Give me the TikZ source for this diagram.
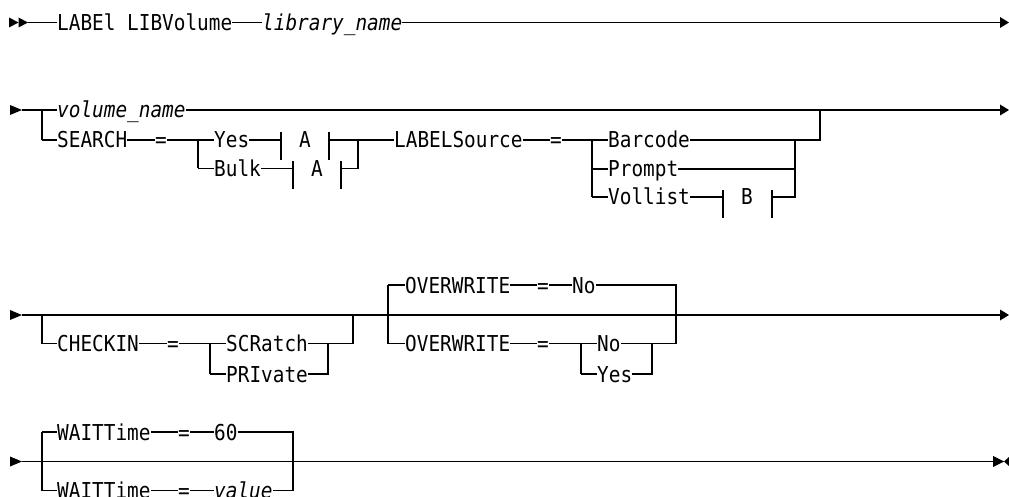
\documentclass[tikz,border=0pt]{standalone}
\usepackage{fontspec}
\setmainfont[FakeStretch=0.885]{DejaVu Sans Mono}
\begin{document}
\begin{tikzpicture}[x=1pt,y=-1pt,
  rail/.style={line width=1.1pt,draw=black},
  kw/.style={font=\fontsize{21.9}{22}\selectfont,inner sep=0pt,anchor=west,text height=16pt,text depth=0pt},
  var/.style={kw,font=\fontsize{21.9}{22}\selectfont\itshape},
  tip/.style={fill=black}]
\useasboundingbox (0,0) rectangle (1009,497);

% ---------- Row 1 ----------
\fill[tip] (9,17.5) -- (18.5,22.5) -- (9,27.5) -- cycle;
\fill[tip] (18.5,17.5) -- (28,22.5) -- (18.5,27.5) -- cycle;
\coordinate (r1s) at (28,22.5);
\node[kw] (lab) at (57,22.5) {LABEl LIBVolume};
\node[var] (lib) at (262,22.5) {library\_name};
\coordinate (r1e) at (1000,22.5);
\draw[rail] (r1s) -- (lab.west);
\draw[rail] (lab.east) -- (lib.west);
\draw[rail] (lib.east) -- (r1e);
\fill[tip] (1000,17) -- (1009,22.5) -- (1000,28) -- cycle;

% ---------- Row 2 ----------
\fill[tip] (10,105) -- (22,110) -- (10,115) -- cycle;
\coordinate (r2s) at (22,110);
\coordinate (j2a) at (42,110);
\coordinate (j2b) at (42,140);
\node[var] (vol) at (57,110) {volume\_name};
\coordinate (r2e) at (1000,110);
\draw[rail] (r2s) -- (j2a) -- (vol.west);
\draw[rail] (vol.east) -- (r2e);
\fill[tip] (1000,104.5) -- (1009,110) -- (1000,115.5) -- cycle;
\draw[rail] (j2a) -- (j2b);

\node[kw] (search) at (57,140) {SEARCH};
\node[kw] (eq1) at (155,140) {=};
\draw[rail] (j2b) -- (search.west);
\draw[rail] (search.east) -- (eq1.west);
\coordinate (j2c) at (198,140);
\coordinate (j2d) at (198,168.5);
\draw[rail] (eq1.east) -- (j2c) -- (j2d);
\node[kw] (yes) at (214,140) {Yes};
\node[kw] (bulk) at (214,168.5) {Bulk};
\draw[rail] (j2c) -- (yes.west);
\draw[rail] (j2d) -- (bulk.west);
% fragment A (Yes)
\coordinate (ya1) at (281,140);
\coordinate (ya2) at (329,140);
\node[kw] (fa1) at (299,140) {A};
\draw[rail] (yes.east) -- (ya1);
\draw[rail] (281,132) -- (281,160);
\draw[rail] (329,132) -- (329,160);
% fragment A (Bulk)
\coordinate (ba1) at (293,168.5);
\coordinate (ba2) at (341,168.5);
\node[kw] (fa2) at (311,168.5) {A};
\draw[rail] (bulk.east) -- (ba1);
\draw[rail] (293,161.5) -- (293,189.5);
\draw[rail] (341,161.5) -- (341,189.5);
\coordinate (j2e) at (358,140);
\coordinate (j2f) at (358,168.5);
\draw[rail] (ya2) -- (j2e) -- (j2f) -- (ba2);

\node[kw] (ls) at (394,140) {LABELSource};
\node[kw] (eq2) at (550,140) {=};
\draw[rail] (j2e) -- (ls.west);
\draw[rail] (ls.east) -- (eq2.west);
\coordinate (j2g) at (592,140);
\coordinate (j2h) at (592,169);
\coordinate (j2i) at (592,197);
\draw[rail] (eq2.east) -- (j2g) -- (j2i);
\node[kw] (barcode) at (608,140) {Barcode};
\node[kw] (prompt) at (608,169) {Prompt};
\node[kw] (vollist) at (608,197) {Vollist};
\draw[rail] (j2g) -- (barcode.west);
\draw[rail] (j2h) -- (prompt.west);
\draw[rail] (j2i) -- (vollist.west);
% fragment B
\coordinate (vb1) at (723,197);
\coordinate (vb2) at (772,197);
\node[kw] (fb) at (741,197) {B};
\draw[rail] (vollist.east) -- (vb1);
\draw[rail] (723,190) -- (723,218);
\draw[rail] (772,190) -- (772,218);
\coordinate (j2j) at (795,140);
\coordinate (j2k) at (795,169);
\coordinate (j2l) at (795,197);
\draw[rail] (vb2) -- (j2l) -- (j2j);
\draw[rail] (prompt.east) -- (j2k);
\coordinate (j2m) at (820,140);
\coordinate (j2n) at (820,110);
\draw[rail] (barcode.east) -- (j2m) -- (j2n);

% ---------- Row 3 ----------
\fill[tip] (10,310) -- (22,315) -- (10,320) -- cycle;
\coordinate (r3s) at (22,315);
\coordinate (r3e) at (1000,315);
\draw[rail] (r3s) -- (r3e);
\fill[tip] (1000,309.5) -- (1009,315) -- (1000,320.5) -- cycle;
\coordinate (j3a) at (42,315);
\coordinate (j3b) at (42,343.5);
\node[kw] (checkin) at (57,343.5) {CHECKIN};
\node[kw] (eq3) at (167,343.5) {=};
\draw[rail] (j3a) -- (j3b) -- (checkin.west);
\draw[rail] (checkin.east) -- (eq3.west);
\coordinate (j3c) at (210,343.5);
\coordinate (j3d) at (210,374);
\draw[rail] (eq3.east) -- (j3c) -- (j3d);
\node[kw] (scratch) at (226,343.5) {SCRatch};
\node[kw] (private) at (226,374) {PRIvate};
\draw[rail] (j3c) -- (scratch.west);
\draw[rail] (j3d) -- (private.west);
\coordinate (j3e) at (328,343.5);
\coordinate (j3f) at (328,374);
\coordinate (j3g) at (353,343.5);
\coordinate (j3h) at (353,315);
\draw[rail] (scratch.east) -- (j3e);
\draw[rail] (private.east) -- (j3f) -- (j3e) -- (j3g) -- (j3h);

% OVERWRITE
\coordinate (j3i) at (388,285);
\coordinate (j3j) at (388,343.5);
\draw[rail] (j3i) -- (j3j);
\node[kw] (ow1) at (405,285) {OVERWRITE};
\node[kw] (eq4) at (537,285) {=};
\node[kw] (no1) at (572,285) {No};
\draw[rail] (j3i) -- (ow1.west);
\draw[rail] (ow1.east) -- (eq4.west);
\draw[rail] (eq4.east) -- (no1.west);
\coordinate (j3k) at (676,285);
\coordinate (j3l) at (676,343.5);
\draw[rail] (no1.east) -- (j3k) -- (j3l);
\node[kw] (ow2) at (405,343.5) {OVERWRITE};
\node[kw] (eq5) at (537,343.5) {=};
\draw[rail] (j3j) -- (ow2.west);
\draw[rail] (ow2.east) -- (eq5.west);
\coordinate (j3m) at (581,343.5);
\coordinate (j3n) at (581,374);
\draw[rail] (eq5.east) -- (j3m) -- (j3n);
\node[kw] (no2) at (597,343.5) {No};
\node[kw] (yes2) at (597,374) {Yes};
\draw[rail] (j3m) -- (no2.west);
\draw[rail] (j3n) -- (yes2.west);
\coordinate (j3o) at (652,343.5);
\coordinate (j3p) at (652,374);
\draw[rail] (no2.east) -- (j3o);
\draw[rail] (yes2.east) -- (j3p) -- (j3o) -- (j3l);

% ---------- Row 4 ----------
\fill[tip] (10,456.5) -- (22,461.5) -- (10,466.5) -- cycle;
\coordinate (r4s) at (22,461.5);
\coordinate (r4e) at (993,461.5);
\draw[rail] (r4s) -- (r4e);
\fill[tip] (993,456) -- (1004,461.5) -- (993,467) -- cycle;
\fill[tip] (1009,457) -- (1004,461.5) -- (1009,466) -- cycle;
\coordinate (j4a) at (42,432);
\coordinate (j4b) at (42,490.5);
\draw[rail] (j4a) -- (j4b);
\node[kw] (wt1) at (57,432) {WAITTime};
\node[kw] (eq6) at (178,432) {=};
\node[kw] (n60) at (214,432) {60};
\draw[rail] (j4a) -- (wt1.west);
\draw[rail] (wt1.east) -- (eq6.west);
\draw[rail] (eq6.east) -- (n60.west);
\coordinate (j4c) at (293,432);
\coordinate (j4d) at (293,490.5);
\draw[rail] (n60.east) -- (j4c) -- (j4d);
\node[kw] (wt2) at (57,490.5) {WAITTime};
\node[kw] (eq7) at (178,490.5) {=};
\node[var] (val) at (214,490.5) {value};
\draw[rail] (j4b) -- (wt2.west);
\draw[rail] (wt2.east) -- (eq7.west);
\draw[rail] (eq7.east) -- (val.west);
\draw[rail] (val.east) -- (j4d);
\end{tikzpicture}
\end{document}
